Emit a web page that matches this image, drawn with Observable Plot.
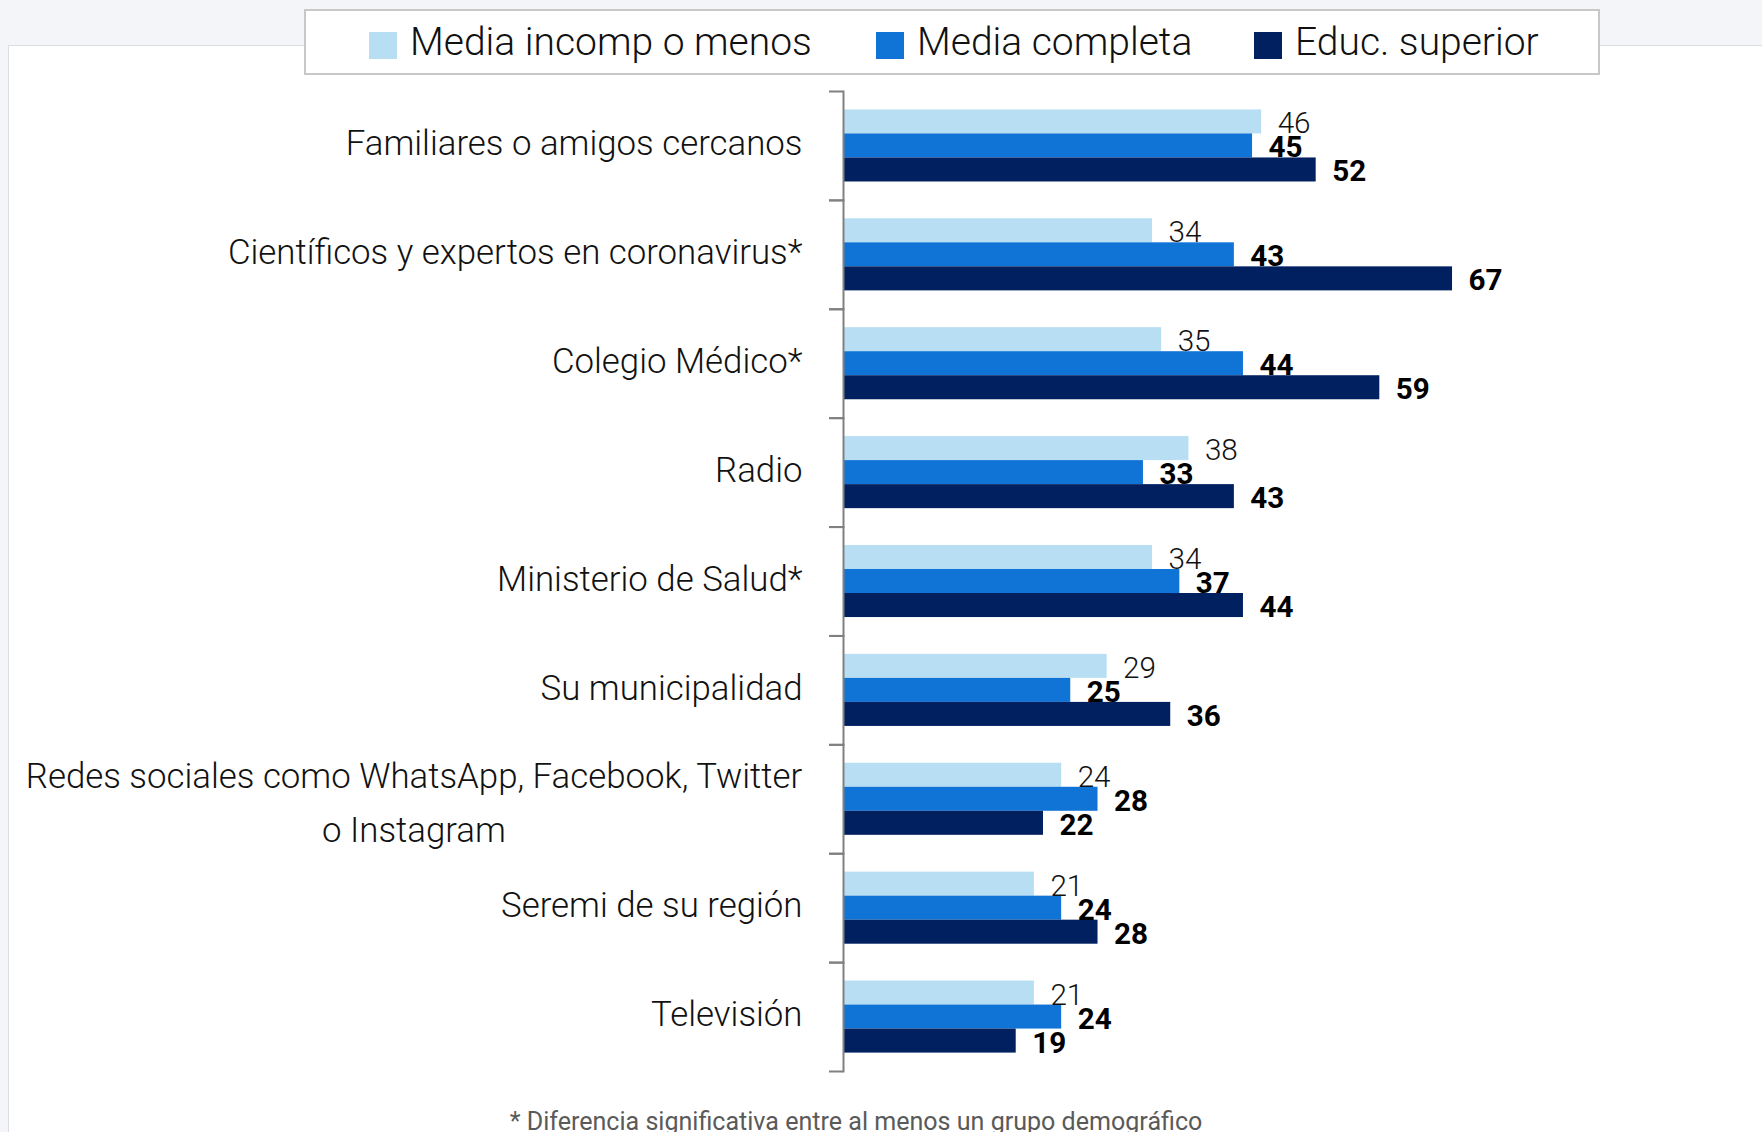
<!DOCTYPE html>
<html>
<head>
<meta charset="utf-8">
<script src="https://cdn.jsdelivr.net/npm/d3@7"></script>
<script src="https://cdn.jsdelivr.net/npm/@observablehq/plot@0.6"></script>
<style>
  html, body { margin: 0; padding: 0; }
  body { width: 1762px; height: 1132px; overflow: hidden; background: #f4f5f9; position: relative;
         font-family: Roboto, "Liberation Sans", sans-serif; }
  #panel { position: absolute; left: 8px; top: 45px; right: -2px; bottom: -2px; background: #fff; border: 1px solid #dcdde2; }
  #chart { position: absolute; left: 0; top: 0; }
  #legend { position: absolute; left: 304px; top: 9px; width: 1292px; height: 62px; background: #fff; border: 2px solid #c8c8c8; }
  .item { position: absolute; top: 0; height: 62px; display: flex; align-items: center; color: #111; white-space: nowrap; font-weight: 300; }
  .sw { width: 28px; height: 27px; margin-right: 13px; margin-top: 6px; }
  #note { position: absolute; top: 1107px; left: 856px; transform: translateX(-50%); color: #5a5a5a; white-space: nowrap; }
</style>
</head>
<body>
<div id="panel"></div>
<div id="chart"></div>
<div id="legend"></div>
<div id="note">* Diferencia significativa entre al menos un grupo demográfico</div>
<script>
const categories = [
  "Familiares o amigos cercanos",
  "Científicos y expertos en coronavirus*",
  "Colegio Médico*",
  "Radio",
  "Ministerio de Salud*",
  "Su municipalidad",
  "Redes sociales como WhatsApp, Facebook, Twitter\no Instagram",
  "Seremi de su región",
  "Televisión"
];
const series = ["Media incomp o menos", "Media completa", "Educ. superior"];
const mediaIncomp   = [46, 34, 35, 38, 34, 29, 24, 21, 21];
const mediaCompleta = [45, 43, 44, 33, 37, 25, 28, 24, 24];
const educSuperior  = [52, 67, 59, 43, 44, 36, 22, 28, 19];
const colors = ["#b8def4", "#1074d7", "#002060"];

const FONT = 'Roboto, "Liberation Sans", sans-serif';

const valuesBySeries = [mediaIncomp, mediaCompleta, educSuperior];
const rows = [];
categories.forEach((c, i) => series.forEach((s, j) => rows.push({cat: c, series: s, value: valuesBySeries[j][i]})));
const catRows = categories.map(c => ({cat: c, multi: c.includes("\n")}));

// font sizes fitted so that text widths match the original's condensed face
const ctx = document.createElement("canvas").getContext("2d");
function fit(text, weight, target) {
  ctx.font = `${weight} 100px ${FONT}`;
  return 100 * target / ctx.measureText(text).width;
}
const labelSize = fit(categories[0], 300, 457);
const legendSize = fit(series[0], 300, 402);
const valueSize = Math.min(36, fit("52", 700, 34));
const noteSize = fit(document.getElementById("note").textContent, 400, 693);
document.getElementById("note").style.fontSize = noteSize + "px";

// legend
const legend = document.getElementById("legend");
const legendX = [63, 570, 948];
series.forEach((s, j) => {
  const it = document.createElement("div");
  it.className = "item";
  it.style.left = legendX[j] + "px";
  it.style.fontSize = legendSize + "px";
  it.innerHTML = `<div class="sw" style="background:${colors[j]}"></div><span>${s}</span>`;
  legend.appendChild(it);
});

const W = 1762, H = 1090, mL = 843, mR = 10, mT = 91, mB = 19;
const bw = (H - mT - mB) / categories.length;
const labelGap = 41;

ctx.font = `300 ${labelSize}px ${FONT}`;
const multiRow = catRows.filter(d => d.multi);
const firstW = multiRow.length ? ctx.measureText(multiRow[0].cat.split("\n")[0]).width : 0;

const chart = Plot.plot({
  width: W, height: H,
  marginLeft: mL, marginRight: mR, marginTop: mT, marginBottom: mB,
  style: {fontFamily: FONT, background: "transparent", color: "#111"},
  x: {domain: [0, 100], axis: null},
  fy: {domain: categories, padding: 0, round: false, axis: null},
  y: {domain: series, paddingInner: 0, paddingOuter: 0.766, round: false, axis: null},
  color: {domain: series, range: colors},
  marks: [
    Plot.barX(rows, {fy: "cat", y: "series", x: "value", fill: "series"}),
    Plot.frame({anchor: "left", stroke: "#808080", strokeWidth: 2}),
    Plot.axisFy({anchor: "left", label: null, tickSize: 14, tickFormat: () => "", stroke: "#808080", strokeWidth: 2, dy: -bw / 2}),
    Plot.axisFy({anchor: "left", label: null, tickSize: 14, tickFormat: () => "", stroke: "#808080", strokeWidth: 2, dy: bw / 2}),
    Plot.text(catRows.filter(d => !d.multi), {fy: "cat", text: "cat", frameAnchor: "left", textAnchor: "end", dx: -labelGap, dy: -2, fontSize: labelSize, fontWeight: 300, fill: "#111"}),
    Plot.text(multiRow, {fy: "cat", text: "cat", frameAnchor: "left", textAnchor: "middle", dx: -labelGap - firstW / 2, dy: -2, lineHeight: 54 / labelSize, fontSize: labelSize, fontWeight: 300, fill: "#111"}),
    Plot.text(rows.filter(d => d.series === series[0]), {fy: "cat", y: "series", x: "value", text: d => String(d.value), dx: 16, dy: 2, textAnchor: "start", fontSize: valueSize, fontWeight: 300, fill: "#111"}),
    Plot.text(rows.filter(d => d.series !== series[0]), {fy: "cat", y: "series", x: "value", text: d => String(d.value), dx: 16, dy: 2, textAnchor: "start", fontSize: valueSize, fontWeight: "bold", fill: "#000"})
  ]
});
document.getElementById("chart").appendChild(chart);
</script>
</body>
</html>
